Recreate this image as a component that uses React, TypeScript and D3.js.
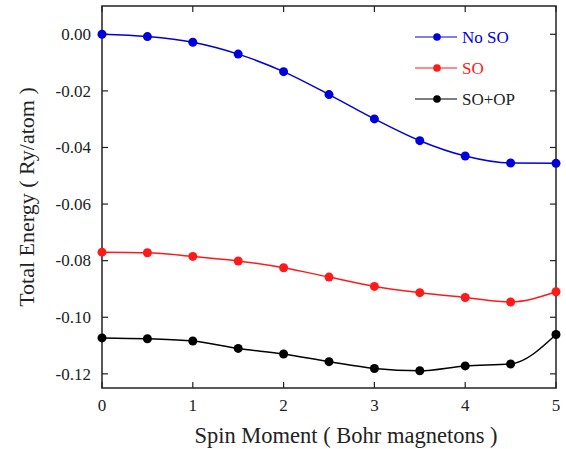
import React from 'react'
import * as d3 from 'd3'

const spin = [0, 0.5, 1, 1.5, 2, 2.5, 3, 3.5, 4, 4.5, 5]
const noSO = [0, -0.0008, -0.0028, -0.007, -0.0132, -0.0213, -0.0299, -0.0376, -0.043, -0.0455, -0.0456]
const withSO = [-0.077, -0.0772, -0.0785, -0.0801, -0.0825, -0.0858, -0.0891, -0.0913, -0.093, -0.0946, -0.091]
const withSOOP = [-0.1073, -0.1076, -0.1084, -0.111, -0.113, -0.1157, -0.1181, -0.1189, -0.1172, -0.1165, -0.1061]

const xTicks = [0, 1, 2, 3, 4, 5]
const yTicks = [0, -0.02, -0.04, -0.06, -0.08, -0.1, -0.12]
const yTickLabels = ['0.00', '-0.02', '-0.04', '-0.06', '-0.08', '-0.10', '-0.12']

const series = [
  { name: 'No SO', values: noSO, color: '#0000dd', text: '#0000dd' },
  { name: 'SO', values: withSO, color: '#ff1a1a', text: '#ff1a1a' },
  { name: 'SO+OP', values: withSOOP, color: '#000000', text: '#222222' },
]

const left = 102, right = 556, top = 6, bottom = 388
const font = '"Liberation Serif"'
const ink = '#222'
const tickLen = 6

export default function App() {
  const x = d3.scaleLinear().domain([0, 5]).range([left, right])
  const y = d3.scaleLinear().domain([0.01, -0.125]).range([top, bottom])

  const line = d3.line<number>()
    .x((d, i) => x(spin[i]))
    .y(d => y(d))
    .curve(d3.curveMonotoneX)

  return (
    <svg width={566} height={449} style={{ position: 'absolute', left: 0, top: 0 }}>
      <rect x={left} y={top} width={right - left} height={bottom - top}
        fill="none" stroke={ink} strokeWidth={1.5} />
      <g stroke={ink} strokeWidth={1.2}>
        {xTicks.map(t => (
          <g key={'x' + t}>
            <line x1={x(t)} x2={x(t)} y1={bottom} y2={bottom - tickLen} />
            <line x1={x(t)} x2={x(t)} y1={top} y2={top + tickLen} />
          </g>
        ))}
        {yTicks.map(t => (
          <g key={'y' + t}>
            <line x1={left} x2={left + tickLen} y1={y(t)} y2={y(t)} />
            <line x1={right} x2={right - tickLen} y1={y(t)} y2={y(t)} />
          </g>
        ))}
      </g>

      {xTicks.map(t => (
        <text key={'xl' + t} x={x(t)} y={411} fontFamily={font} fontSize={17}
          fill={ink} textAnchor="middle">{t}</text>
      ))}
      {yTicks.map((t, i) => (
        <text key={'yl' + t} x={91} y={y(t) + 5.8} fontFamily={font} fontSize={17}
          fill={ink} textAnchor="end">{yTickLabels[i]}</text>
      ))}

      <text x={346} y={443} fontFamily={font} fontSize={22.5}
        fill={ink} textAnchor="middle">Spin Moment ( Bohr magnetons )</text>
      <text transform={`translate(34, 197) rotate(-90)`}
        fontFamily={font} fontSize={22} fill={ink} textAnchor="middle">
        Total Energy ( Ry/atom )
      </text>

      {series.map(s => (
        <g key={s.name}>
          <path d={line(s.values) || ''} fill="none" stroke={s.color} strokeWidth={1.5} />
          {s.values.map((v, i) => (
            <circle key={i} cx={x(spin[i])} cy={y(v)} r={4.5} fill={s.color} />
          ))}
        </g>
      ))}

      {/* legend */}
      {series.map((s, i) => {
        const ly = 37 + i * 31
        return (
          <g key={'lg' + s.name}>
            <line x1={415} x2={457} y1={ly} y2={ly} stroke={s.color} strokeWidth={1.2} />
            <circle cx={437} cy={ly} r={3.8} fill={s.color} />
            <text x={462} y={ly + 6} fontFamily={font} fontSize={17} fill={s.text}>{s.name}</text>
          </g>
        )
      })}
    </svg>
  )
}
